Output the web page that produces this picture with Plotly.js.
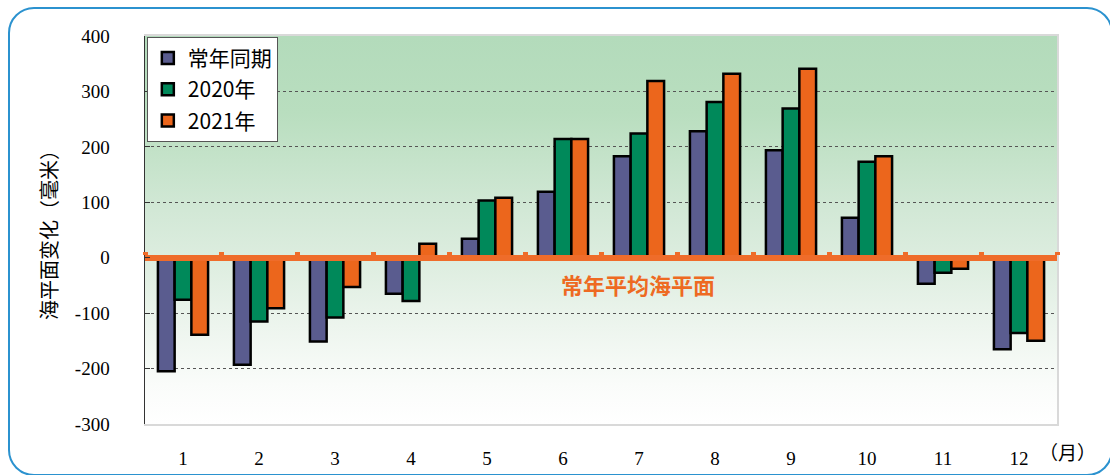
<!DOCTYPE html>
<html>
<head>
<meta charset="utf-8">
<script src="https://cdn.plot.ly/plotly-3.0.1.min.js"></script>
<style>
  html, body { margin: 0; padding: 0; background: #ffffff; }
  #wrap { position: relative; width: 1110px; height: 475px; overflow: hidden; }
  #frame {
    position: absolute; left: 8px; top: 7px; width: 1105px; height: 469px;
    box-sizing: border-box; border: 2px solid #2b92cf; border-radius: 26px;
  }
  #chart { position: absolute; left: 0; top: 0; width: 1110px; height: 475px; }
</style>
</head>
<body>
<div id="wrap">
  <div id="frame"></div>
  <div id="chart"></div>
</div>
<script>
// Monthly sea level anomaly relative to the long-term mean (mm)
const months = ['1', '2', '3', '4', '5', '6', '7', '8', '9', '10', '11', '12'];
const seriesNames = ['常年同期', '2020年', '2021年'];
const normalValues = [-205, -193, -151, -65, 34, 119, 183, 228, 194, 72, -47, -165];
const values2020 = [-76, -115, -108, -78, 103, 214, 224, 281, 269, 173, -27, -136];
const values2021 = [-139, -91, -53, 25, 108, 214, 319, 332, 341, 183, -20, -150];
const seriesColors = ['#5a5c8f', '#00895a', '#ec661c'];

const yTickValues = [-300, -200, -100, 0, 100, 200, 300, 400];
const yTickLabels = ['-300', '-200', '-100', '0', '100', '200', '300', '400'];

const yTitle = '海平面变化（毫米）';
const zeroLabel = '常年平均海平面';
const monthUnit = '（月）';

const cjk = '"Noto Sans CJK SC", "Noto Sans", sans-serif';
const serif = '"Liberation Serif", "Times New Roman", serif';

const allSeries = [normalValues, values2020, values2021];
const traces = allSeries.map((vals, i) => ({
  type: 'bar',
  name: seriesNames[i],
  legendgroup: 'g' + i,
  x: months,
  y: vals,
  marker: { color: seriesColors[i], line: { color: '#000000', width: 2.5 } },
  hoverinfo: 'x+y+name'
}));

// Empty helper trace so the baseline axis and right frame axis get drawn
traces.push({
  type: 'scatter', mode: 'markers', x: [null], y: [null],
  xaxis: 'x2', yaxis: 'y2', showlegend: false, hoverinfo: 'skip'
});

// Soft green-to-white wash behind the plotting area
const gradientSvg =
  '<svg xmlns="http://www.w3.org/2000/svg" width="100" height="100" preserveAspectRatio="none">' +
  '<defs><linearGradient id="g" x1="0" y1="0" x2="0" y2="1">' +
  '<stop offset="0" stop-color="#b3dbbb"/>' +
  '<stop offset="0.2" stop-color="#b9debf"/>' +
  '<stop offset="0.45" stop-color="#d2e8d6"/>' +
  '<stop offset="0.6" stop-color="#dfeee1"/>' +
  '<stop offset="0.75" stop-color="#edf5ee"/>' +
  '<stop offset="0.9" stop-color="#fafcfa"/>' +
  '<stop offset="1" stop-color="#ffffff"/>' +
  '</linearGradient></defs><rect width="100" height="100" fill="url(#g)"/></svg>';

// Boundaries between month groups, used for the marks on the baseline
const boundaries = months.map((m, i) => i - 0.5).concat([months.length - 0.5]);

const yRange = [-300, 400];

const layout = {
  width: 1110,
  height: 475,
  margin: { l: 145, r: 53, t: 36, b: 51 },
  paper_bgcolor: 'rgba(0,0,0,0)',
  plot_bgcolor: 'rgba(0,0,0,0)',
  barmode: 'group',
  bargap: 0.34,
  bargroupgap: 0,
  showlegend: true,
  legend: {
    x: 0.002, y: 0.998, xanchor: 'left', yanchor: 'top',
    bgcolor: '#ffffff', bordercolor: '#555555', borderwidth: 1,
    font: { family: cjk, size: 21, color: '#000000' },
    tracegroupgap: 1, itemwidth: 30
  },
  xaxis: {
    type: 'category',
    showline: true, linecolor: '#d9d9d9', linewidth: 2, mirror: true,
    ticks: '', showgrid: false, zeroline: false,
    tickfont: { family: serif, size: 19, color: '#000000' },
    ticklabelstandoff: 16
  },
  xaxis2: {
    type: 'linear',
    overlaying: 'x', anchor: 'free', side: 'top',
    position: (0 - yRange[0]) / (yRange[1] - yRange[0]),
    range: [-0.5, months.length - 0.5],
    showline: true, linecolor: '#ef6c2a', linewidth: 6,
    ticks: 'outside', ticklen: 3, tickwidth: 5, tickcolor: '#ef6c2a',
    tickvals: boundaries, showticklabels: false,
    showgrid: false, zeroline: false, fixedrange: true
  },
  yaxis: {
    range: yRange, tickvals: yTickValues, ticktext: yTickLabels,
    showline: true, linecolor: '#333333', linewidth: 1.5,
    ticks: 'inside', ticklen: 5, tickcolor: '#333333',
    showgrid: true, gridcolor: '#555555', griddash: 'dot', gridwidth: 1,
    zeroline: false,
    tickfont: { family: serif, size: 19, color: '#000000' },
    ticklabelstandoff: 30,
    title: { text: yTitle, font: { family: cjk, size: 20, color: '#000000' }, standoff: 12 }
  },
  yaxis2: {
    overlaying: 'y', side: 'right', anchor: 'x2', range: yRange,
    showline: true, linecolor: '#d9d9d9', linewidth: 2,
    ticks: '', showticklabels: false, showgrid: false, zeroline: false
  },
  images: [{
    source: 'data:image/svg+xml;charset=utf-8,' + encodeURIComponent(gradientSvg),
    xref: 'paper', yref: 'paper', x: 0, y: 1, sizex: 1, sizey: 1,
    xanchor: 'left', yanchor: 'top', sizing: 'stretch', layer: 'below'
  }],
  annotations: [
    {
      text: '<b>' + zeroLabel + '</b>',
      xref: 'paper', yref: 'y', x: 0.5406, y: -47,
      showarrow: false, xanchor: 'center', yanchor: 'middle',
      font: { family: cjk, size: 22, color: '#ee6a22' }
    },
    {
      text: monthUnit,
      xref: 'paper', yref: 'paper', x: 1.011, y: -0.07,
      showarrow: false, xanchor: 'center', yanchor: 'middle',
      font: { family: cjk, size: 19, color: '#000000' }
    }
  ]
};

Plotly.newPlot('chart', traces, layout, { displayModeBar: false, staticPlot: true });
</script>
</body>
</html>
